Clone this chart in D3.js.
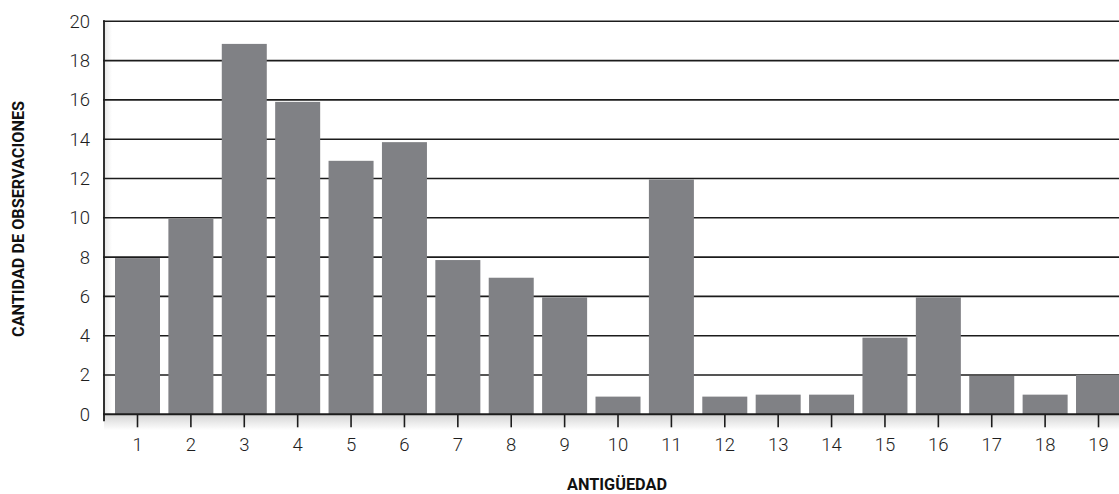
<!DOCTYPE html>
<html>
<head>
<meta charset="utf-8">
<script src="https://cdn.jsdelivr.net/npm/d3@7"></script>
<style>
  html, body { margin: 0; padding: 0; background: #fff; }
  svg { display: block; }
  .tk text { font-family: Roboto, 'Liberation Sans', sans-serif; font-weight: 300; font-size: 18.5px; fill: #1e1e1e; }
</style>
</head>
<body>
<svg id="chart" width="1119" height="494"></svg>
<script>
const categories = ["1","2","3","4","5","6","7","8","9","10","11","12","13","14","15","16","17","18","19"];
const values = [7.95, 9.95, 18.85, 15.9, 12.9, 13.85, 7.85, 6.95, 5.95, 0.9, 11.95, 0.9, 1.0, 1.0, 3.9, 5.95, 1.95, 1.0, 2.0];
const yTicks = [0, 2, 4, 6, 8, 10, 12, 14, 16, 18, 20];
const xTitle = "ANTIGÜEDAD";
const yTitle = "CANTIDAD DE OBSERVACIONES";

const svg = d3.select("#chart");
const W = 1119, H = 494;
const axisX = 104, baseY = 414.3, topY = 21.3;

const y = d3.scaleLinear().domain([0, 20]).range([baseY, topY]);
const step = 53.39;
const x = d3.scaleBand().domain(categories)
  .range([137.5 - step / 2, 137.5 - step / 2 + step * categories.length])
  .paddingInner(0.157).paddingOuter(0.0785);

// shadows
const defs = svg.append("defs");
const gB = defs.append("linearGradient").attr("id", "shB").attr("x1", 0).attr("y1", 0).attr("x2", 0).attr("y2", 1);
gB.append("stop").attr("offset", "0%").attr("stop-color", "#d4d4d4");
gB.append("stop").attr("offset", "100%").attr("stop-color", "#ffffff");
const gL = defs.append("linearGradient").attr("id", "shL").attr("x1", 0).attr("y1", 0).attr("x2", 1).attr("y2", 0);
gL.append("stop").attr("offset", "0%").attr("stop-color", "#e6e6e6");
gL.append("stop").attr("offset", "100%").attr("stop-color", "#ffffff");
svg.append("rect").attr("x", axisX).attr("y", baseY).attr("width", W - axisX).attr("height", 16).attr("fill", "url(#shB)");
svg.append("rect").attr("x", axisX).attr("y", topY).attr("width", 8).attr("height", baseY - topY).attr("fill", "url(#shL)");

// gridlines
svg.append("g").selectAll("line").data(yTicks.filter(d => d > 0)).join("line")
  .attr("x1", axisX - 1).attr("x2", W)
  .attr("y1", d => y(d)).attr("y2", d => y(d))
  .attr("stroke", "#1c1c1c").attr("stroke-width", 1.6);

// bars
svg.append("g").selectAll("rect").data(values).join("rect")
  .attr("x", (d, i) => x(categories[i]))
  .attr("y", d => y(d))
  .attr("width", x.bandwidth())
  .attr("height", d => baseY - y(d))
  .attr("fill", "#808185");

// y axis
const yAxis = svg.append("g").attr("class", "tk").attr("transform", `translate(${axisX},0)`)
  .call(d3.axisLeft(y).tickValues(yTicks).tickSize(0).tickPadding(14));
yAxis.select(".domain").remove();
yAxis.append("line").attr("x1", 0).attr("x2", 0).attr("y1", topY - 1).attr("y2", baseY + 7)
  .attr("stroke", "#1c1c1c").attr("stroke-width", 1.8);

// x axis
const xAxis = svg.append("g").attr("class", "tk").attr("transform", `translate(0,${baseY})`)
  .call(d3.axisBottom(x).tickSize(13).tickPadding(11));
xAxis.select(".domain").remove();
xAxis.append("line").attr("x1", axisX - 1).attr("x2", W).attr("y1", 0).attr("y2", 0)
  .attr("stroke", "#1c1c1c").attr("stroke-width", 2);
xAxis.selectAll(".tick line").attr("stroke", "#1c1c1c").attr("stroke-width", 1.6);

// titles
svg.append("text").attr("x", 617).attr("y", 490)
  .attr("text-anchor", "middle")
  .style("font-family", "Roboto, 'Liberation Sans', sans-serif").style("font-weight", "bold")
  .style("font-size", "16px").attr("fill", "#111")
  .attr("textLength", 100).attr("lengthAdjust", "spacingAndGlyphs")
  .text(xTitle);

svg.append("text").attr("transform", "translate(24,219) rotate(-90)")
  .attr("text-anchor", "middle")
  .style("font-family", "Roboto, 'Liberation Sans', sans-serif").style("font-weight", "bold")
  .style("font-size", "16px").attr("fill", "#111")
  .attr("textLength", 236).attr("lengthAdjust", "spacingAndGlyphs")
  .text(yTitle);
</script>
</body>
</html>
